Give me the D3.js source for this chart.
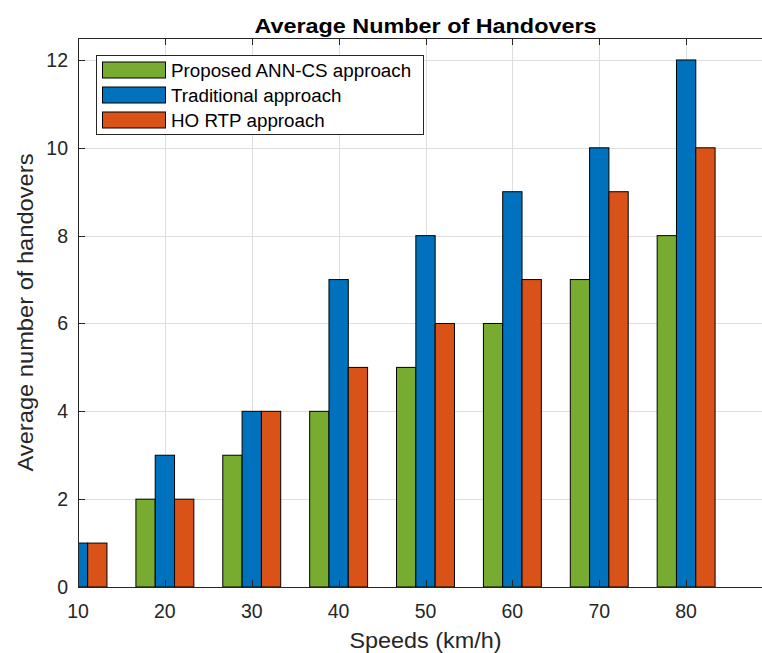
<!DOCTYPE html>
<html>
<head>
<meta charset="utf-8">
<script src="https://cdn.jsdelivr.net/npm/d3@7"></script>
<style>
  html, body { margin: 0; padding: 0; background: #fff; }
  svg { display: block; font-family: "Liberation Sans", Arial, Helvetica, sans-serif; }
</style>
</head>
<body>
<svg id="chart" width="762" height="653"></svg>
<script>
// Speeds (km/h) on the x axis
const speeds = [10, 20, 30, 40, 50, 60, 70, 80];
// Average number of handovers per approach
const annCs = [0, 2, 3, 4, 5, 6, 7, 8];
const traditional = [1, 3, 4, 7, 8, 9, 10, 12];
const hoRtp = [1, 2, 4, 5, 6, 7, 9, 10];
const seriesNames = ["Proposed ANN-CS approach", "Traditional approach", "HO RTP approach"];
const seriesColors = ["#77AC30", "#0072BD", "#D95319"];
const xTicks = [10, 20, 30, 40, 50, 60, 70, 80, 90];
const yTicks = [0, 2, 4, 6, 8, 10, 12];

const series = [annCs, traditional, hoRtp];

const svg = d3.select("#chart");
const plotL = 78, plotR = 773, plotT = 38, plotB = 587;
const axisColor = "#262626";

const x = d3.scaleLinear().domain([10, 90]).range([plotL, plotR]);
const y = d3.scaleLinear().domain([0, 12.5]).range([plotB, plotT]);

// grouped bar geometry: three adjacent bars per speed, the middle one centred
const groupWidth = 10 * Math.min(0.8, 3 / 4.5);
const barW = groupWidth / series.length;

svg.append("defs").append("clipPath").attr("id", "plotClip")
  .append("rect").attr("x", plotL).attr("y", plotT)
  .attr("width", plotR - plotL).attr("height", plotB - plotT);

// grid
const grid = svg.append("g").attr("stroke", "#dedede").attr("stroke-width", 1);
grid.selectAll("line.gx").data(xTicks).join("line")
  .attr("x1", d => Math.round(x(d)) + 0.5).attr("x2", d => Math.round(x(d)) + 0.5)
  .attr("y1", plotT).attr("y2", plotB);
grid.selectAll("line.gy").data(yTicks).join("line")
  .attr("x1", plotL).attr("x2", plotR)
  .attr("y1", d => Math.round(y(d)) + 0.5).attr("y2", d => Math.round(y(d)) + 0.5);

// bars
const bars = svg.append("g").attr("clip-path", "url(#plotClip)");
series.forEach((vals, si) => {
  bars.append("g")
    .selectAll("rect").data(vals.map((v, i) => ({ s: speeds[i], v })))
    .join("rect")
    .attr("x", d => x(d.s + (si - 1) * barW - barW / 2))
    .attr("width", x(barW) - x(0))
    .attr("y", d => y(d.v))
    .attr("height", d => y(0) - y(d.v))
    .attr("fill", seriesColors[si])
    .attr("stroke", "#000")
    .attr("stroke-width", 1)
    .attr("display", d => d.v > 0 ? null : "none");
});

// axes (box with inward ticks)
const tickLen = 7;
const ax = svg.append("g").attr("stroke", axisColor).attr("stroke-width", 1).attr("fill", "none");
ax.append("line").attr("x1", plotL).attr("x2", plotR).attr("y1", plotB + 0.5).attr("y2", plotB + 0.5);
ax.append("line").attr("x1", plotL).attr("x2", plotR).attr("y1", plotT + 0.5).attr("y2", plotT + 0.5);
ax.append("line").attr("x1", plotL + 0.5).attr("x2", plotL + 0.5).attr("y1", plotT).attr("y2", plotB + 0.5);
ax.selectAll("line.xb").data(xTicks).join("line")
  .attr("x1", d => Math.round(x(d)) + 0.5).attr("x2", d => Math.round(x(d)) + 0.5)
  .attr("y1", plotB).attr("y2", plotB - tickLen);
ax.selectAll("line.xt").data(xTicks).join("line")
  .attr("x1", d => Math.round(x(d)) + 0.5).attr("x2", d => Math.round(x(d)) + 0.5)
  .attr("y1", plotT).attr("y2", plotT + tickLen);
ax.selectAll("line.yl").data(yTicks).join("line")
  .attr("x1", plotL).attr("x2", plotL + tickLen)
  .attr("y1", d => Math.round(y(d)) + 0.5).attr("y2", d => Math.round(y(d)) + 0.5);

// tick labels
svg.append("g").selectAll("text").data(xTicks.filter(d => x(d) < 762)).join("text")
  .attr("x", d => x(d)).attr("y", 618)
  .attr("text-anchor", "middle").attr("font-size", 19.5).attr("fill", axisColor)
  .text(d => d);
svg.append("g").selectAll("text").data(yTicks).join("text")
  .attr("x", 68).attr("y", d => y(d) + 7)
  .attr("text-anchor", "end").attr("font-size", 19.5).attr("fill", axisColor)
  .text(d => d);

// axis titles
svg.append("text").attr("x", (plotL + plotR) / 2).attr("y", 648)
  .attr("text-anchor", "middle").attr("font-size", 22).attr("fill", axisColor)
  .attr("textLength", 152).attr("lengthAdjust", "spacingAndGlyphs")
  .text("Speeds (km/h)");
svg.append("text")
  .attr("transform", `translate(33, ${(plotT + plotB) / 2}) rotate(-90)`)
  .attr("text-anchor", "middle").attr("font-size", 22).attr("fill", axisColor)
  .attr("textLength", 318).attr("lengthAdjust", "spacingAndGlyphs")
  .text("Average number of handovers");

// title
svg.append("text").attr("x", (plotL + plotR) / 2).attr("y", 33)
  .attr("text-anchor", "middle").attr("font-size", 21).attr("font-weight", "bold").attr("fill", "#000")
  .attr("textLength", 342).attr("lengthAdjust", "spacingAndGlyphs")
  .text("Average Number of Handovers");

// legend
const lg = svg.append("g");
lg.append("rect").attr("x", 96.5).attr("y", 55.5).attr("width", 327).attr("height", 79)
  .attr("fill", "#fff").attr("stroke", axisColor).attr("stroke-width", 1);
seriesNames.forEach((name, i) => {
  const cy = 70 + i * 25;
  lg.append("rect").attr("x", 102.5).attr("y", cy - 8).attr("width", 63).attr("height", 16)
    .attr("fill", seriesColors[i]).attr("stroke", "#000").attr("stroke-width", 1);
  lg.append("text").attr("x", 171).attr("y", cy + 6.5)
    .attr("font-size", 18.8).attr("fill", "#000").text(name);
});
</script>
</body>
</html>
